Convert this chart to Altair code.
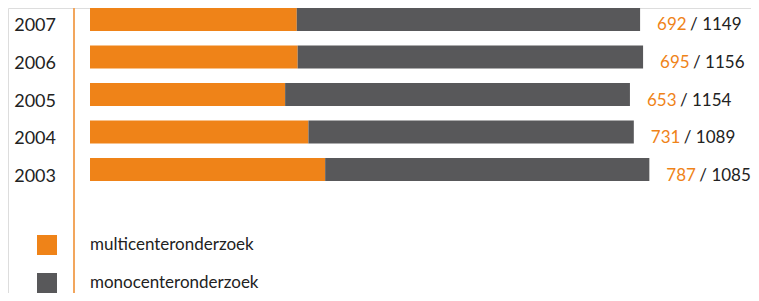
import altair as alt
import pandas as pd

years = ["2007", "2006", "2005", "2004", "2003"]
multi = [692, 695, 653, 731, 787]
mono = [1149, 1156, 1154, 1089, 1085]
series = ["multicenteronderzoek", "monocenteronderzoek"]
colors = ["#EF8318", "#58585A"]

rows = []
for y, m, n in zip(years, multi, mono):
    rows.append({"year": y, "type": series[0], "value": m, "ord": 0})
    rows.append({"year": y, "type": series[1], "value": n, "ord": 1})
long_df = pd.DataFrame(rows)

lab_df = pd.DataFrame({
    "year": years,
    "total": [m + n for m, n in zip(multi, mono)],
    "rest": [f"/ {n}" for n in mono],
    "m": [str(m) for m in multi],
})

FONT = "Lato"
xscale = alt.Scale(domain=[0, 2000], range=[82, 679.6], zero=True, nice=False)
yscale = alt.Scale(domain=years, range=[0, 173], paddingInner=0.387, paddingOuter=0)

bars = alt.Chart(long_df).mark_bar(cornerRadius=0).encode(
    x=alt.X("value:Q", stack="zero", scale=xscale, axis=None),
    y=alt.Y("year:N", sort=years, scale=yscale, axis=None),
    color=alt.Color("type:N", scale=alt.Scale(domain=series, range=colors),
                    legend=alt.Legend(title=None, orient="none", legendX=29, legendY=227,
                                      symbolType="square", symbolSize=400, symbolStrokeWidth=0,
                                      symbolOpacity=1, labelFont=FONT, labelFontSize=17,
                                      labelColor="#222222", labelOffset=33, rowPadding=18,
                                      labelLimit=0, labelBaseline="middle", padding=0)),
    order=alt.Order("ord:Q"),
)

year_text = alt.Chart(lab_df).mark_text(align="right", baseline="alphabetic", dy=12,
                                        font=FONT, fontSize=18, color="#222222").encode(
    x=alt.value(48),
    y=alt.Y("year:N", sort=years, scale=yscale, axis=None),
    text="year:N",
)

rest_text = alt.Chart(lab_df).mark_text(align="left", baseline="alphabetic", dx=50, dy=11,
                                        font=FONT, fontSize=17, color="#222222").encode(
    x=alt.X("total:Q", scale=xscale, axis=None),
    y=alt.Y("year:N", sort=years, scale=yscale, axis=None),
    text="rest:N",
)

m_text = alt.Chart(lab_df).mark_text(align="left", baseline="alphabetic", dx=17, dy=11,
                                     font=FONT, fontSize=17, color="#EF8318").encode(
    x=alt.X("total:Q", scale=xscale, axis=None),
    y=alt.Y("year:N", sort=years, scale=yscale, axis=None),
    text="m:N",
)

vline = alt.Chart(lab_df).mark_rule(color="#F2A65E", strokeWidth=1.5).encode(
    x=alt.value(66), y=alt.value(0), y2=alt.value(285)
)

chart = alt.layer(vline, bars, year_text, rest_text, m_text).properties(
    width=743, height=285,
    autosize=alt.AutoSizeParams(type="none"),
    padding=0,
).configure_view(stroke=None).configure(background="white")

chart.save("out.html", embed_options={"renderer": "svg", "actions": False})
